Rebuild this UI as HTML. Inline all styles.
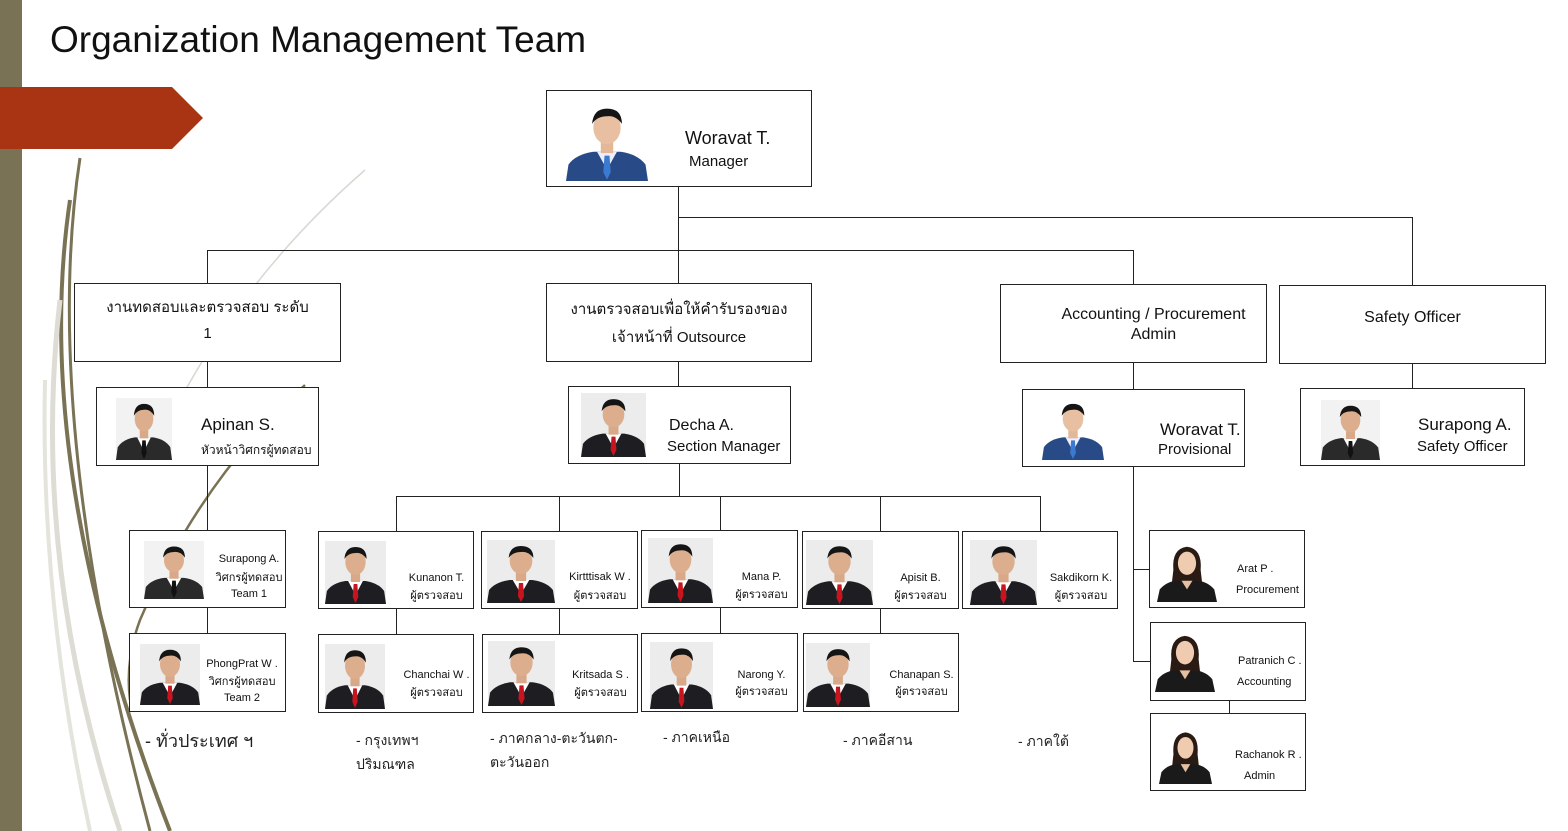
<!DOCTYPE html>
<html><head><meta charset="utf-8">
<style>
*{margin:0;padding:0;box-sizing:border-box}
body{width:1568px;height:831px;position:relative;background:#fff;overflow:hidden;font-family:"Liberation Sans","Noto Sans CJK SC",sans-serif;color:#111}
.b{position:absolute;border:1px solid #222;background:#fff}
.p{position:absolute}
.t{position:absolute;white-space:nowrap;line-height:1}
.s{font-size:11px;text-align:center}
.c{position:absolute;font-size:14px;color:#222;line-height:24px}
</style></head><body>
<svg width="0" height="0" style="position:absolute">
<defs>
<symbol id="ph" viewBox="0 0 66 63" preserveAspectRatio="none">
<rect width="66" height="63" fill="#ececec"/>
<path d="M0 63 L2 50 Q8 42 22 40 L44 40 Q58 42 64 50 L66 63Z" fill="#1e1e22"/>
<path d="M25 40 L33 54 L41 40Z" fill="#fff"/>
<path d="M31 43 L35 43 L36 56 L33 62 L30 56Z" fill="#c8141e"/>
<rect x="28" y="30" width="10" height="11" fill="#d8a888"/>
<ellipse cx="33" cy="21" rx="11" ry="13" fill="#dcae8e"/>
<path d="M21 18 Q22 6 33 6 Q45 6 45 18 Q40 11 33 12 Q25 12 21 18Z" fill="#151515"/>
</symbol>
<symbol id="phk" viewBox="0 0 66 63" preserveAspectRatio="none">
<rect width="66" height="63" fill="#f2f2f2"/>
<path d="M0 63 L2 50 Q8 42 22 40 L44 40 Q58 42 64 50 L66 63Z" fill="#2a2a2a"/>
<path d="M25 40 L33 54 L41 40Z" fill="#fff"/>
<path d="M31 43 L35 43 L36 56 L33 62 L30 56Z" fill="#111"/>
<rect x="28" y="30" width="10" height="11" fill="#d8a888"/>
<ellipse cx="33" cy="21" rx="11" ry="13" fill="#dcae8e"/>
<path d="M21 18 Q22 6 33 6 Q45 6 45 18 Q40 11 33 12 Q25 12 21 18Z" fill="#151515"/>
</symbol>
<symbol id="phb" viewBox="0 0 66 63" preserveAspectRatio="none">
<rect width="66" height="63" fill="#fff"/>
<path d="M0 63 L2 50 Q8 42 22 40 L44 40 Q58 42 64 50 L66 63Z" fill="#284a86"/>
<path d="M25 40 L33 54 L41 40Z" fill="#eef"/>
<path d="M31 43 L35 43 L36 56 L33 62 L30 56Z" fill="#3a7ad0"/>
<rect x="28" y="30" width="10" height="11" fill="#e2b898"/>
<ellipse cx="33" cy="21" rx="11" ry="13" fill="#e8bfa0"/>
<path d="M21 18 Q22 6 33 6 Q45 6 45 18 Q40 11 33 12 Q25 12 21 18Z" fill="#151515"/>
</symbol>
<symbol id="phf" viewBox="0 0 66 63" preserveAspectRatio="none">
<rect width="66" height="63" fill="#fff"/>
<path d="M18 30 Q16 8 33 6 Q50 8 48 30 L50 46 L16 46Z" fill="#2a1a14"/>
<path d="M0 63 L3 50 Q10 42 22 41 L44 41 Q56 42 63 50 L66 63Z" fill="#1a1a1a"/>
<path d="M27 41 L33 50 L39 41Z" fill="#e6bfa0"/>
<ellipse cx="33" cy="23" rx="10" ry="12" fill="#efcbb0"/>
</symbol>
</defs>
</svg>

<div style="position:absolute;left:0;top:0;width:22px;height:831px;background:#7a7254"></div>
<svg style="position:absolute;left:0;top:0" width="1568" height="831">
<path d="M0 87 L172 87 L203 118 L172 149 L0 149Z" fill="#a93414"/>
<path d="M80 158 Q40 420 150 831" stroke="#7a7254" stroke-width="3" fill="none"/>
<path d="M70 200 Q30 470 170 831" stroke="#7a7254" stroke-width="4" fill="none"/>
<path d="M60 300 Q30 560 120 831" stroke="#ddddd5" stroke-width="5" fill="none"/>
<path d="M45 380 Q40 600 90 831" stroke="#e4e4dc" stroke-width="4" fill="none"/>
<path d="M365 170 Q250 270 180 400" stroke="#d8d8d0" stroke-width="1.5" fill="none"/>
<path d="M305 385 Q200 480 140 620 Q125 660 130 700" stroke="#7a7254" stroke-width="2.5" fill="none"/>
<g stroke="#222" stroke-width="1" fill="none">
<path d="M678.5 186 V283 M207.5 250.5 H1133.5 M207.5 250 V283 M1133.5 250 V284 M678.5 217.5 H1412.5 V285"/>
<path d="M207.5 361 V387 M678.5 361 V386 M1133.5 362 V389 M1412.5 363 V388"/>
<path d="M207.5 465 V530 M207.5 607 V633"/>
<path d="M679.5 463 V496.5 M396.5 496.5 H1040.5 M396.5 496 V531 M559.5 496 V531 M720.5 496 V530 M880.5 496 V531 M1040.5 496 V531"/>
<path d="M396.5 608 V634 M559.5 608 V634 M720.5 607 V633 M880.5 608 V633"/>
<path d="M1133.5 466 V661.5 H1150 M1133.5 569.5 H1149 M1229.5 700 V713"/>
</g>
</svg>

<div class="t" style="left:50px;top:21px;font-size:37px;color:#111">Organization Management Team</div>

<div class="b" style="left:546px;top:90px;width:266px;height:97px">
<svg class="p" style="left:19px;top:10px" width="82" height="80"><use href="#phb"/></svg>
<div class="t" style="left:138px;top:38px;font-size:18px">Woravat T.</div>
<div class="t" style="left:142px;top:63px;font-size:15px">Manager</div>
</div>

<div class="b" style="left:74px;top:283px;width:267px;height:79px;text-align:center;font-size:15px;line-height:26px;padding-top:11px">งานทดสอบและตรวจสอบ ระดับ<br>1</div>
<div class="b" style="left:546px;top:283px;width:266px;height:79px;text-align:center;font-size:15px;line-height:28px;padding-top:12px">งานตรวจสอบเพื่อให้คำรับรองของ<br>เจ้าหน้าที่ Outsource</div>
<div class="b" style="left:1000px;top:284px;width:267px;height:79px;text-align:center;font-size:16px;line-height:20px;padding-top:20px;padding-left:40px">Accounting / Procurement<br>Admin</div>
<div class="b" style="left:1279px;top:285px;width:267px;height:79px;text-align:center;font-size:16px;padding-top:23px">Safety Officer</div>

<div class="b" style="left:96px;top:387px;width:223px;height:79px">
<svg class="p" style="left:19px;top:10px" width="56" height="62"><use href="#phk"/></svg>
<div class="t" style="left:104px;top:28px;font-size:17px">Apinan S.</div>
<div class="t" style="left:104px;top:56px;font-size:12px">หัวหน้าวิศกรผู้ทดสอบ</div>
</div>
<div class="b" style="left:568px;top:386px;width:223px;height:78px">
<svg class="p" style="left:12px;top:6px" width="65" height="64"><use href="#ph"/></svg>
<div class="t" style="left:100px;top:31px;font-size:16px">Decha A.</div>
<div class="t" style="left:98px;top:52px;font-size:15px">Section Manager</div>
</div>
<div class="b" style="left:1022px;top:389px;width:223px;height:78px">
<svg class="p" style="left:19px;top:8px" width="62" height="62"><use href="#phb"/></svg>
<div class="t" style="left:137px;top:31px;font-size:17px">Woravat T.</div>
<div class="t" style="left:135px;top:52px;font-size:15px">Provisional</div>
</div>
<div class="b" style="left:1300px;top:388px;width:225px;height:78px">
<svg class="p" style="left:20px;top:11px" width="59" height="60"><use href="#phk"/></svg>
<div class="t" style="left:117px;top:27px;font-size:17px">Surapong A.</div>
<div class="t" style="left:116px;top:50px;font-size:15px">Safety Officer</div>
</div>

<div class="b" style="left:129px;top:530px;width:157px;height:78px">
<svg class="p" style="left:14px;top:10px" width="60" height="58"><use href="#phk"/></svg>
<div class="t s" style="left:84px;top:23px;width:70px">Surapong A.</div>
<div class="t s" style="left:84px;top:42px;width:70px">วิศกรผู้ทดสอบ</div>
<div class="t s" style="left:84px;top:58px;width:70px">Team 1</div>
</div>
<div class="b" style="left:129px;top:633px;width:157px;height:79px">
<svg class="p" style="left:10px;top:10px" width="60" height="61"><use href="#ph"/></svg>
<div class="t s" style="left:72px;top:25px;width:80px">PhongPrat W .</div>
<div class="t s" style="left:72px;top:43px;width:80px">วิศกรผู้ทดสอบ</div>
<div class="t s" style="left:72px;top:59px;width:80px">Team 2</div>
</div>

<div class="b" style="left:318px;top:531px;width:156px;height:78px">
<svg class="p" style="left:6px;top:9px" width="61" height="63"><use href="#ph"/></svg>
<div class="t s" style="left:80px;top:41px;width:75px">Kunanon T.</div>
<div class="t s" style="left:80px;top:59px;width:75px">ผู้ตรวจสอบ</div>
</div>
<div class="b" style="left:481px;top:531px;width:157px;height:78px">
<svg class="p" style="left:5px;top:8px" width="68" height="63"><use href="#ph"/></svg>
<div class="t s" style="left:80px;top:40px;width:76px">Kirtttisak W .</div>
<div class="t s" style="left:80px;top:59px;width:76px">ผู้ตรวจสอบ</div>
</div>
<div class="b" style="left:641px;top:530px;width:157px;height:78px">
<svg class="p" style="left:6px;top:7px" width="65" height="65"><use href="#ph"/></svg>
<div class="t s" style="left:82px;top:41px;width:75px">Mana P.</div>
<div class="t s" style="left:82px;top:59px;width:75px">ผู้ตรวจสอบ</div>
</div>
<div class="b" style="left:802px;top:531px;width:157px;height:78px">
<svg class="p" style="left:3px;top:8px" width="67" height="65"><use href="#ph"/></svg>
<div class="t s" style="left:80px;top:41px;width:75px">Apisit B.</div>
<div class="t s" style="left:80px;top:59px;width:75px">ผู้ตรวจสอบ</div>
</div>
<div class="b" style="left:962px;top:531px;width:156px;height:78px">
<svg class="p" style="left:7px;top:8px" width="67" height="65"><use href="#ph"/></svg>
<div class="t s" style="left:82px;top:41px;width:72px">Sakdikorn K.</div>
<div class="t s" style="left:82px;top:59px;width:72px">ผู้ตรวจสอบ</div>
</div>

<div class="b" style="left:318px;top:634px;width:156px;height:79px">
<svg class="p" style="left:6px;top:9px" width="60" height="65"><use href="#ph"/></svg>
<div class="t s" style="left:80px;top:35px;width:75px">Chanchai W .</div>
<div class="t s" style="left:80px;top:53px;width:75px">ผู้ตรวจสอบ</div>
</div>
<div class="b" style="left:482px;top:634px;width:156px;height:79px">
<svg class="p" style="left:5px;top:6px" width="67" height="65"><use href="#ph"/></svg>
<div class="t s" style="left:80px;top:35px;width:75px">Kritsada S .</div>
<div class="t s" style="left:80px;top:53px;width:75px">ผู้ตรวจสอบ</div>
</div>
<div class="b" style="left:641px;top:633px;width:157px;height:79px">
<svg class="p" style="left:8px;top:8px" width="63" height="67"><use href="#ph"/></svg>
<div class="t s" style="left:82px;top:36px;width:75px">Narong Y.</div>
<div class="t s" style="left:82px;top:53px;width:75px">ผู้ตรวจสอบ</div>
</div>
<div class="b" style="left:803px;top:633px;width:156px;height:79px">
<svg class="p" style="left:2px;top:9px" width="64" height="64"><use href="#ph"/></svg>
<div class="t s" style="left:80px;top:36px;width:75px">Chanapan S.</div>
<div class="t s" style="left:80px;top:53px;width:75px">ผู้ตรวจสอบ</div>
</div>

<div class="b" style="left:1149px;top:530px;width:156px;height:78px">
<svg class="p" style="left:7px;top:10px" width="60" height="61"><use href="#phf"/></svg>
<div class="t" style="left:87px;top:33px;font-size:11px">Arat P .</div>
<div class="t" style="left:86px;top:54px;font-size:11px">Procurement</div>
</div>
<div class="b" style="left:1150px;top:622px;width:156px;height:79px">
<svg class="p" style="left:4px;top:7px" width="60" height="62"><use href="#phf"/></svg>
<div class="t" style="left:87px;top:33px;font-size:11px">Patranich C .</div>
<div class="t" style="left:86px;top:54px;font-size:11px">Accounting</div>
</div>
<div class="b" style="left:1150px;top:713px;width:156px;height:78px">
<svg class="p" style="left:8px;top:13px" width="53" height="57"><use href="#phf"/></svg>
<div class="t" style="left:84px;top:36px;font-size:11px">Rachanok R .</div>
<div class="t" style="left:93px;top:57px;font-size:11px">Admin</div>
</div>

<div class="c" style="left:145px;top:729px;font-size:18px">- ทั่วประเทศ ฯ</div>
<div class="c" style="left:356px;top:728px">- กรุงเทพฯ<br>ปริมณฑล</div>
<div class="c" style="left:490px;top:726px">- ภาคกลาง-ตะวันตก-<br>ตะวันออก</div>
<div class="c" style="left:663px;top:725px">- ภาคเหนือ</div>
<div class="c" style="left:843px;top:728px">- ภาคอีสาน</div>
<div class="c" style="left:1018px;top:729px">- ภาคใต้</div>
</body></html>
